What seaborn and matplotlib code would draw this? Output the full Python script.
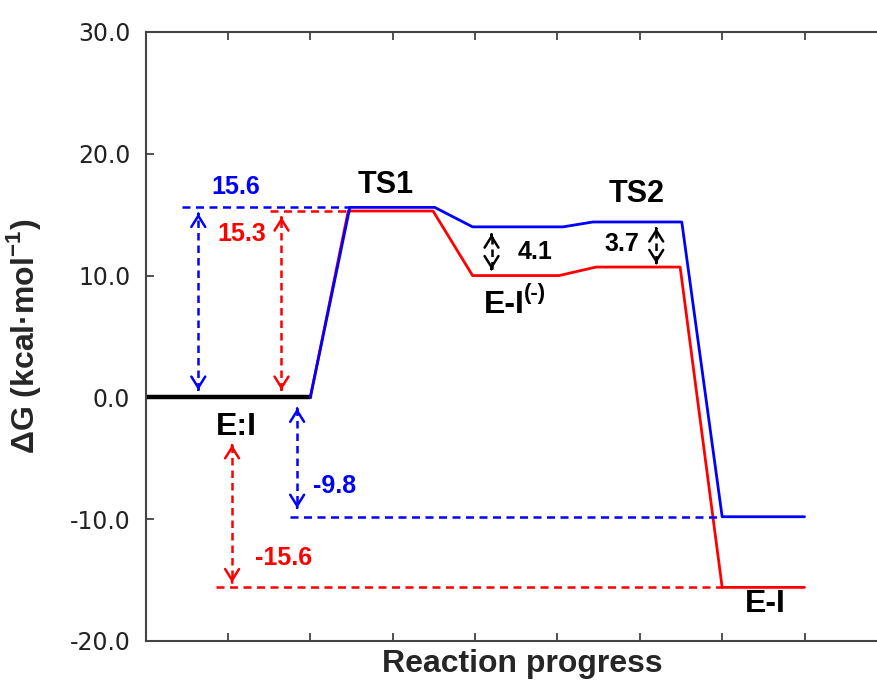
import matplotlib
matplotlib.use("Agg")
import matplotlib.pyplot as plt
import seaborn as sns
import pandas as pd

sns.set_style("white")
plt.rcParams['font.family'] = ['DejaVu Sans']
plt.rcParams['mathtext.fontset'] = 'custom'
plt.rcParams['mathtext.rm'] = 'Liberation Sans'
plt.rcParams['mathtext.bf'] = 'Liberation Sans:bold'

# Data (x = reaction coordinate, y = free energy kcal/mol)
ei_x = [0.0, 2.0]
ei_y = [0.0, 0.0]
blue_x = [2.0, 2.48, 3.51, 3.97, 5.07, 5.43, 6.51, 7.0, 8.0]
blue_y = [0.0, 15.6, 15.6, 14.0, 14.0, 14.4, 14.4, -9.8, -9.8]
red_x = [2.0, 2.46, 3.49, 3.97, 5.02, 5.47, 6.49, 7.0, 8.0]
red_y = [0.0, 15.3, 15.3, 10.0, 10.0, 10.7, 10.7, -15.6, -15.6]

yticks = [-20, -10, 0, 10, 20, 30]
ytick_labels = ["-20.0", "-10.0", "0.0", "10.0", "20.0", "30.0"]

fig = plt.figure(figsize=(8.77, 6.89), dpi=100)
ax = fig.add_axes([0.166, 0.0697, 0.834, 0.8839])

BLUE = "#0000ff"
RED = "#ff0000"

sns.lineplot(x=ei_x, y=ei_y, color="black", lw=3.2, sort=False, estimator=None, ax=ax)
sns.lineplot(x=red_x, y=red_y, color=RED, lw=2.0, sort=False, estimator=None, ax=ax)
sns.lineplot(x=blue_x, y=blue_y, color=BLUE, lw=2.0, sort=False, estimator=None, ax=ax)

dash = (0, (3.2, 2.2))
# reference dashed levels
ax.plot([0.44, 2.48], [15.6, 15.6], color=BLUE, lw=1.8, ls=dash)
ax.plot([1.51, 2.46], [15.3, 15.3], color=RED, lw=1.8, ls=dash)
ax.plot([1.75, 7.0], [-9.8, -9.8], color=BLUE, lw=1.8, ls=dash)
ax.plot([0.86, 7.0], [-15.6, -15.6], color=RED, lw=1.8, ls=dash)

def darrow(x, y0, y1, color, lw=1.8):
    ax.plot([x, x], [y0, y1], color=color, lw=lw, ls=(0, (3, 2)))
    d = 0.05 * (1 if y1 > y0 else -1)
    for tip, base in ((y1, y1 - d), (y0, y0 + d)):
        ax.annotate("", xy=(x, tip), xytext=(x, base),
                    arrowprops=dict(arrowstyle="->,head_length=0.8,head_width=0.5",
                                    color=color, lw=lw,
                                    shrinkA=0, shrinkB=0))

darrow(0.64, 0.6, 15.1, BLUE)
darrow(1.65, 0.6, 14.8, RED)
darrow(1.84, -0.9, -9.1, BLUE)
darrow(1.05, -3.9, -15.2, RED)
darrow(4.2, 10.5, 13.4, "black")
darrow(6.2, 11.0, 13.9, "black")

bold = dict(fontweight="bold", family=["Liberation Sans", "DejaVu Sans"],
            ha="center", va="center")
ax.text(1.1, 17.3, "15.6", color=BLUE, fontsize=18, **bold)
ax.text(1.17, 13.4, "15.3", color=RED, fontsize=18, **bold)
ax.text(2.92, 17.4, "TS1", color="black", fontsize=22, **bold)
ax.text(5.96, 16.7, "TS2", color="black", fontsize=22, **bold)
ax.text(4.73, 11.9, "4.1", color="black", fontsize=18, **bold)
ax.text(5.78, 12.6, "3.7", color="black", fontsize=18, **bold)
ax.text(4.36, 7.6, "E-I", color="black", fontsize=23, **bold)
ax.text(4.73, 8.5, "(-)", color="black", fontsize=16, **bold)
ax.text(1.1, -2.4, "E:I", color="black", fontsize=23, **bold)
ax.text(2.3, -7.3, "-9.8", color=BLUE, fontsize=18, **bold)
ax.text(1.67, -13.2, "-15.6", color=RED, fontsize=18, **bold)
ax.text(7.52, -17.0, "E-I", color="black", fontsize=23, **bold)

ax.set_xlim(0, 8.88)
ax.set_ylim(-20, 30)
ax.set_xticks(range(1, 9))
ax.set_xticklabels([])
ax.set_yticks(yticks)
ax.set_yticklabels(ytick_labels)
ax.tick_params(axis="x", direction="in", length=6, width=1.2, color="#333333",
               top=True, bottom=True)
ax.tick_params(axis="y", direction="in", length=6, width=1.2, color="#333333",
               left=True, right=False, labelsize=17, labelcolor="#222222", pad=11)
for s in ["left", "top", "bottom"]:
    ax.spines[s].set_color("#444444")
    ax.spines[s].set_linewidth(1.5)
ax.spines["right"].set_visible(False)

ax.set_xlabel("Reaction progress", fontsize=23, fontweight="bold",
              family=["Liberation Sans", "DejaVu Sans"])
ax.xaxis.set_label_coords(0.515, -0.013)
ax.set_ylabel(r"ΔG (kcal·mol$^{\mathbf{-1}}$)", fontsize=23, fontweight="bold",
              family=["Liberation Sans", "DejaVu Sans"])
ax.yaxis.set_label_coords(-0.14, 0.5)

fig.savefig("out.png", dpi=100)
